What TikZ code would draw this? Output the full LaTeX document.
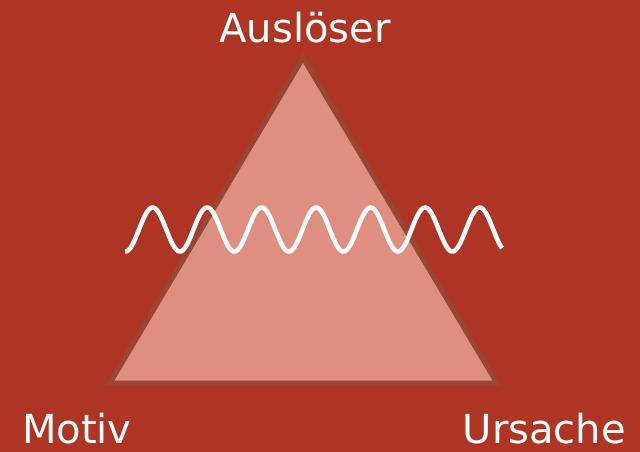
\documentclass[tikz,border=0pt]{standalone}
\usepackage{fontspec}
\setmainfont{DejaVu Sans}
\usepackage{tikz}
\usetikzlibrary{positioning,calc}
\definecolor{bgred}{RGB}{174,53,35}
\definecolor{trifill}{RGB}{223,143,128}
\definecolor{triedge}{RGB}{152,70,52}

\begin{document}
\begin{tikzpicture}[x=1pt, y=-1pt, line join=miter]
  \tikzstyle{corner} = [text=white, font=\fontsize{40}{40}\selectfont, inner sep=0pt]
  \tikzstyle{wave} = [draw=white, line width=4.5pt, line cap=butt]

  \fill[bgred] (0,0) rectangle (640,452);
  \useasboundingbox (0,0) rectangle (640,452);

  \coordinate (top) at (303,58);
  \coordinate (left) at (110,383);
  \coordinate (right) at (497,383);
  \filldraw[fill=trifill, draw=triedge, line width=5pt] (top) -- (left) -- (right) -- cycle;

  \node[corner, anchor=base] (ausl) at (305,43) {Auslöser};
  \node[corner, anchor=base west] (motiv) at (22,443) {Motiv};
  \node[corner, anchor=base east] (ursache) at (626,443) {Ursache};

  % wave: period 54.5, 360/54.5 = 6.6055
  \draw[wave] plot[domain=125:502, samples=300, smooth] (\x, {229.5 - 22*sin(6.6055*(\x-139))});
\end{tikzpicture}
\end{document}
